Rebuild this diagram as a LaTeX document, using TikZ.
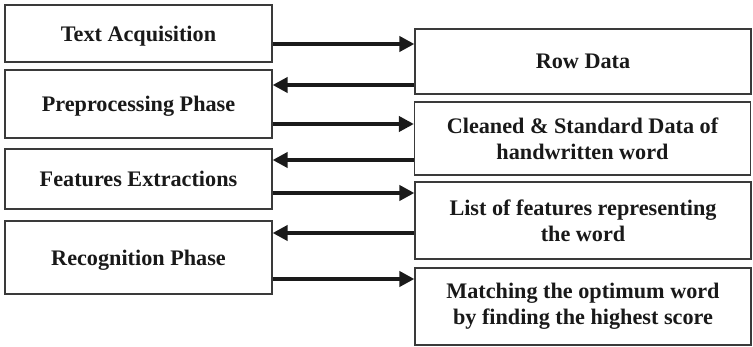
\documentclass[tikz,border=0pt]{standalone}
\usepackage{fontspec}
\setmainfont{Liberation Serif}
\usetikzlibrary{arrows.meta}
\definecolor{boxline}{HTML}{3A3A3A}
\definecolor{arrowink}{HTML}{1A1A1A}
\tikzset{
  stage/.style={draw=boxline, line width=1.2pt, rectangle, inner sep=2pt,
    align=center, text=black!90,
    font=\fontsize{22.2}{26}\selectfont\bfseries},
  oneline/.style={text depth=0pt},
  leftstage/.style={stage, oneline, minimum width=267pt},
  rightstage/.style={stage, minimum width=336pt},
  flow/.style={draw=arrowink, line width=4pt,
    -{Triangle[length=15pt,width=15pt]}, shorten >=0pt}
}
\begin{document}
\begin{tikzpicture}[x=1pt,y=-1pt]
\useasboundingbox (0,0) rectangle (753,347);
% processing stages (left column)
\node[leftstage, minimum height=57pt] (L1) at (138.5,33.5) {Text Acquisition};
\node[leftstage, minimum height=68pt] (L2) at (138.5,104) {Preprocessing Phase};
\node[leftstage, minimum height=60pt] (L3) at (138.5,179) {Features Extractions};
\node[leftstage, minimum height=73pt] (L4) at (138.5,257.5) {Recognition Phase};
% data produced (right column)
\node[rightstage, oneline, minimum height=65pt] (R1) at (583,61.5) {Row Data};
\node[rightstage, minimum height=73pt] (R2) at (582.5,138.5) {Cleaned \& Standard Data of\\handwritten word};
\node[rightstage, minimum height=77pt] (R3) at (583,220.5) {List of features representing\\the word};
\node[rightstage, minimum height=77pt] (R4) at (583,306.5) {Matching the optimum word\\by finding the highest score};
% exchanges between stages and data
\draw[flow] (L1.east |- 0,44)  -- (R1.west |- 0,44);
\draw[flow] (R1.west |- 0,85)  -- (L2.east |- 0,85);
\draw[flow] (L2.east |- 0,124) -- (R2.west |- 0,124);
\draw[flow] (R2.west |- 0,160) -- (L3.east |- 0,160);
\draw[flow] (L3.east |- 0,193) -- (R3.west |- 0,193);
\draw[flow] (R3.west |- 0,233) -- (L4.east |- 0,233);
\draw[flow] (L4.east |- 0,279) -- (R4.west |- 0,279);
\end{tikzpicture}
\end{document}
